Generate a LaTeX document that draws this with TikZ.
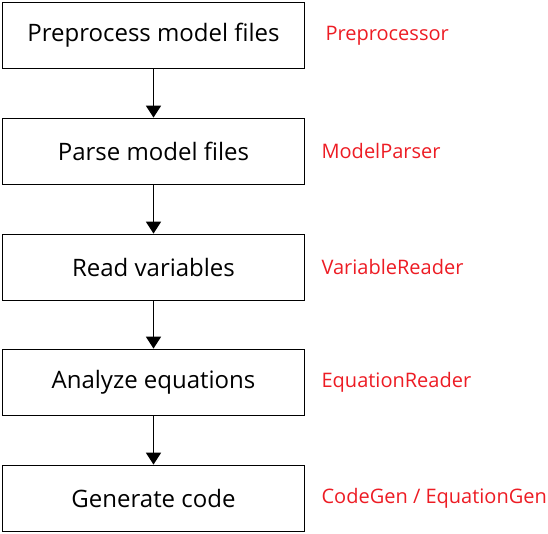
\documentclass[tikz,border=0pt]{standalone}
\usepackage{fontspec}
\setmainfont{Open Sans}
\usepackage{tikz}
\usetikzlibrary{calc,arrows.meta,positioning}
\definecolor{labelred}{RGB}{237,28,36}

\begin{document}
\begin{tikzpicture}[x=1pt,y=1pt,
    stagebox/.style={draw,line width=1.8pt,minimum width=302pt,minimum height=66pt,inner sep=0pt,font=\fontsize{24}{28}\selectfont},
    classlabel/.style={anchor=west,inner sep=0pt,text=labelred,font=\fontsize{20}{24}\selectfont},
    flow/.style={line width=1.8pt,-{Triangle[width=15pt,length=12pt]}}]

  \useasboundingbox (0,0) rectangle (548,-534);

  % Stages
  \path (153.5,-35.5)           node[stagebox] (preprocess) {Preprocess model files};
  \path (preprocess.center) +(0,-116) node[stagebox] (parse)    {Parse model files};
  \path (parse.center)      +(0,-116) node[stagebox] (readvars) {Read variables};
  \path (readvars.center)   +(0,-115) node[stagebox] (analyze)  {Analyze equations};
  \path (analyze.center)    +(0,-116) node[stagebox] (generate) {Generate code};

  % Classes
  \path (preprocess.east) +(20,0) node[classlabel] (preprocessor)   {Preprocessor};
  \path (parse.east)      +(16,0) node[classlabel] (modelparser)    {ModelParser};
  \path (readvars.east)   +(16,0) node[classlabel] (variablereader) {VariableReader};
  \path (analyze.east)    +(16,0) node[classlabel] (equationreader) {EquationReader};
  \path (generate.east)   +(16,0) node[classlabel] (codegen)        {CodeGen / EquationGen};

  % Flow
  \draw[flow] (preprocess) -- (parse);
  \draw[flow] (parse) -- (readvars);
  \draw[flow] (readvars) -- (analyze);
  \draw[flow] (analyze) -- (generate);

\end{tikzpicture}
\end{document}
